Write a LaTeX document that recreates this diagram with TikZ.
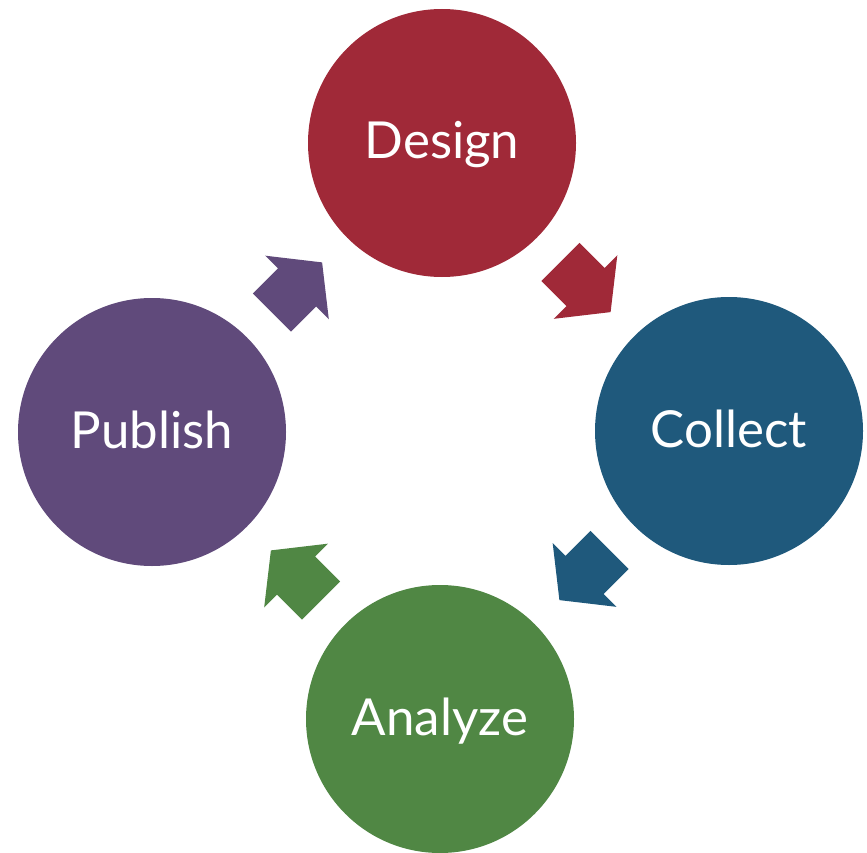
\documentclass[tikz,border=0pt]{standalone}
\usepackage{fontspec}
\setmainfont{Lato}
\usetikzlibrary{calc}
\definecolor{cred}{RGB}{160,41,56}
\definecolor{cblue}{RGB}{31,89,124}
\definecolor{cgreen}{RGB}{80,135,68}
\definecolor{cpurple}{RGB}{96,74,123}
\newcommand\blockarrow[3]{%
  \begin{scope}[shift={(#1)},rotate=#2]
    \fill[#3] (-35.5,-27) -- (0,-27) -- (0,-45) -- (35.5,0) -- (0,45) -- (0,27) -- (-35.5,27) -- cycle;
  \end{scope}}
\begin{document}
\begin{tikzpicture}[x=1pt,y=-1pt,
  stage/.style={circle,minimum size=268pt,inner sep=0pt},
  lbl/.style={text=white,font=\fontsize{51}{60}\selectfont,anchor=base,inner sep=0pt}]
\useasboundingbox (0,0) rectangle (867,853);
\node[stage,fill=cred] (design) at (442,143) {};
\node[stage,fill=cblue] (collect) at (729,431) {};
\node[stage,fill=cgreen] (analyze) at (440,719) {};
\node[stage,fill=cpurple] (publish) at (152,432) {};
\node[lbl] (designtxt) at ($(design.center)+(0,16)$) {Design};
\node[lbl] (collecttxt) at ($(collect.center)+(0,16)$) {Collect};
\node[lbl] (analyzetxt) at ($(analyze.center)+(0,16)$) {Analyze};
\node[lbl] (publishtxt) at ($(publish.center)+(0,16)$) {Publish};
\coordinate (dc) at ($(design)!0.5!(collect)$);
\coordinate (ca) at ($(collect)!0.5!(analyze)$);
\coordinate (ap) at ($(analyze)!0.5!(publish)$);
\coordinate (pd) at ($(publish)!0.5!(design)$);
\blockarrow{dc}{-45}{cred}
\blockarrow{ca}{-135}{cblue}
\blockarrow{ap}{135}{cgreen}
\blockarrow{pd}{45}{cpurple}
\end{tikzpicture}
\end{document}
